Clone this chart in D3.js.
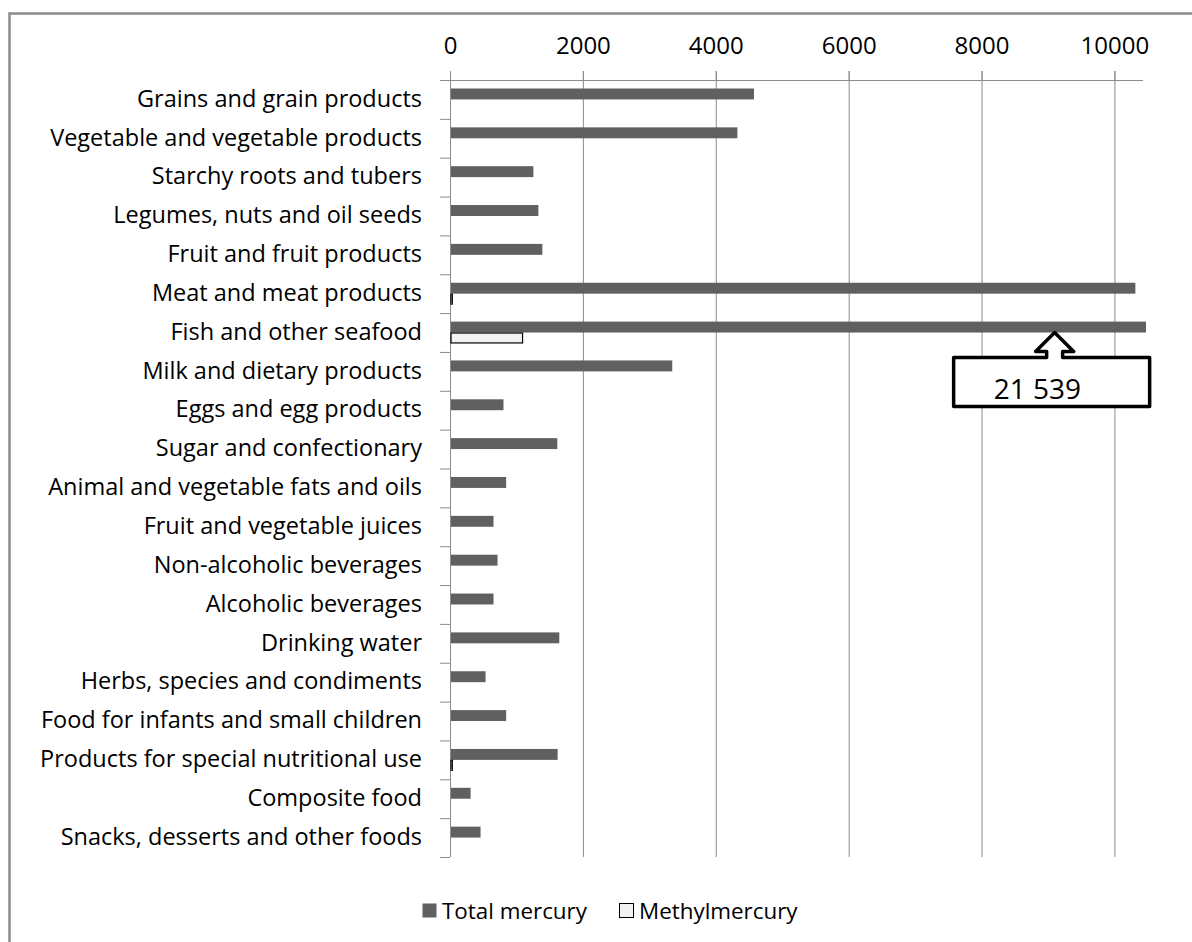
<!DOCTYPE html>
<html>
<head>
<meta charset="utf-8">
<script src="https://cdn.jsdelivr.net/npm/d3@7"></script>
<style>
  body { margin: 0; background: #fff; }
  text { font-family: "Open Sans", sans-serif; fill: #000; }
</style>
</head>
<body>
<script>
// Data (fish total is clipped, true value shown in callout)
const categories = [
  'Grains and grain products',
  'Vegetable and vegetable products',
  'Starchy roots and tubers',
  'Legumes, nuts and oil seeds',
  'Fruit and fruit products',
  'Meat and meat products',
  'Fish and other seafood',
  'Milk and dietary products',
  'Eggs and egg products',
  'Sugar and confectionary',
  'Animal and vegetable fats and oils',
  'Fruit and vegetable juices',
  'Non-alcoholic beverages',
  'Alcoholic beverages',
  'Drinking water',
  'Herbs, species and condiments',
  'Food for infants and small children',
  'Products for special nutritional use',
  'Composite food',
  'Snacks, desserts and other foods'
]
const totalMercury = [4560, 4310, 1240, 1315, 1375, 10300, 21539, 3330, 790, 1600,
  830, 640, 700, 640, 1630, 520, 830, 1605, 295, 445]
const methylMercury = [0, 0, 0, 0, 0, 20, 1077, 0, 0, 0,
  0, 0, 0, 0, 0, 0, 0, 20, 0, 0]
const xTicks = [0, 2000, 4000, 6000, 8000, 10000]
const seriesNames = ['Total mercury', 'Methylmercury']
const calloutLabel = '21 539'

const W = 1192, H = 942
const margin = {top: 80, left: 450, right: 49, bottom: 85}
const width = W - margin.left - margin.right
const height = H - margin.top - margin.bottom

const svg = d3.select('body').append('svg')
  .attr('width', W)
  .attr('height', H)

// chart frame (runs off the right/bottom of the picture)
svg.append('rect')
  .attr('x', 9.5).attr('y', 13.5)
  .attr('width', 1300).attr('height', 1000)
  .attr('fill', 'none').attr('stroke', '#8c8c8c').attr('stroke-width', 2.5)

const g = svg.append('g').attr('transform', `translate(${margin.left},${margin.top})`)

const xscale = d3.scaleLinear().domain([0, 10430]).range([0, width])
const yscale = d3.scaleBand().domain(categories).range([0, height])
const inner = d3.scaleBand().domain(seriesNames).range([8.5, yscale.bandwidth() - 8.5])

// gridlines, extended above the axis line like tick marks
g.append('g').selectAll('line').data(xTicks.slice(1)).join('line')
  .attr('x1', d => xscale(d) + 0.5).attr('x2', d => xscale(d) + 0.5)
  .attr('y1', -9).attr('y2', height)
  .attr('stroke', '#8c8c8c').attr('stroke-width', 1)

// top axis
const xaxis = d3.axisTop(xscale).tickValues(xTicks).tickFormat(d3.format('d'))
  .tickSize(9).tickPadding(17)
const g_xaxis = g.append('g').call(xaxis)
g_xaxis.select('.domain').remove()
g_xaxis.append('line').attr('x1', -10).attr('x2', width).attr('y1', 0.5).attr('y2', 0.5)
  .attr('stroke', '#8c8c8c')
g_xaxis.selectAll('.tick line').attr('stroke', '#8c8c8c')
g_xaxis.selectAll('.tick text').attr('font-size', 24).attr('font-family', '"Open Sans", sans-serif')

// left axis
const g_yaxis = g.append('g')
g_yaxis.append('line').attr('x1', 0.5).attr('x2', 0.5).attr('y1', 0).attr('y2', height)
  .attr('stroke', '#8c8c8c')
g_yaxis.selectAll('line.tk').data(d3.range(categories.length + 1)).join('line')
  .attr('class', 'tk')
  .attr('x1', -10).attr('x2', 0)
  .attr('y1', i => i * yscale.step() + 0.5).attr('y2', i => i * yscale.step() + 0.5)
  .attr('stroke', '#8c8c8c')
g_yaxis.selectAll('text').data(categories).join('text')
  .attr('x', -28)
  .attr('y', d => yscale(d) + yscale.bandwidth() / 2 - 1)
  .attr('dy', '0.35em')
  .attr('text-anchor', 'end')
  .attr('font-size', 23.5)
  .text(d => d)

// bars
g.append('clipPath').attr('id', 'plot-clip')
  .append('rect').attr('x', 0).attr('y', 0).attr('width', width + 3).attr('height', height)

const bars = g.append('g').attr('clip-path', 'url(#plot-clip)')
bars.selectAll('rect.total').data(categories).join('rect')
  .attr('class', 'total')
  .attr('x', 1)
  .attr('y', d => yscale(d) + inner('Total mercury'))
  .attr('height', inner.bandwidth())
  .attr('width', (d, i) => xscale(totalMercury[i]))
  .attr('fill', '#606060')

bars.selectAll('rect.methyl').data(categories).join('rect')
  .attr('class', 'methyl')
  .attr('x', 1)
  .attr('y', d => yscale(d) + inner('Methylmercury') + 0.5)
  .attr('height', inner.bandwidth() - 1)
  .attr('width', (d, i) => xscale(methylMercury[i]))
  .attr('fill', '#f2f2f2')
  .attr('stroke', (d, i) => methylMercury[i] > 0 ? '#000' : 'none')
  .attr('stroke-width', 1.2)

// up-arrow callout pointing at the clipped fish bar
const fishY = yscale('Fish and other seafood') + inner('Total mercury') + inner.bandwidth()
const tipX = xscale(9100)
const boxTop = fishY + 25, boxBot = fishY + 74
const boxL = xscale(7580), boxR = xscale(10530)
const callout = [
  [boxL, boxTop], [tipX - 8, boxTop], [tipX - 8, fishY + 19], [tipX - 19, fishY + 19],
  [tipX, fishY], [tipX + 19, fishY + 19], [tipX + 8, fishY + 19], [tipX + 8, boxTop],
  [boxR, boxTop], [boxR, boxBot], [boxL, boxBot]
]
g.append('path')
  .attr('d', d3.line()(callout) + 'Z')
  .attr('fill', '#fff').attr('stroke', '#000').attr('stroke-width', 3.5)
  .attr('stroke-linejoin', 'round')
g.append('text')
  .attr('x', boxL + 40).attr('y', boxBot - 8)
  .attr('font-size', 28)
  .text(calloutLabel)

// legend
const legendColors = ['#606060', '#f2f2f2']
const legendX = [422, 619]
const legend = svg.append('g').selectAll('g').data(seriesNames).join('g')
  .attr('transform', (d, i) => `translate(${legendX[i]},903)`)
legend.append('rect')
  .attr('x', 0.5).attr('y', 0.5).attr('width', 14).attr('height', 14)
  .attr('fill', (d, i) => legendColors[i])
  .attr('stroke', (d, i) => i === 0 ? 'none' : '#000').attr('stroke-width', 1)
legend.append('text')
  .attr('x', 20).attr('y', 8).attr('dy', '0.35em')
  .attr('font-size', 22.4)
  .text(d => d)
</script>
</body>
</html>
